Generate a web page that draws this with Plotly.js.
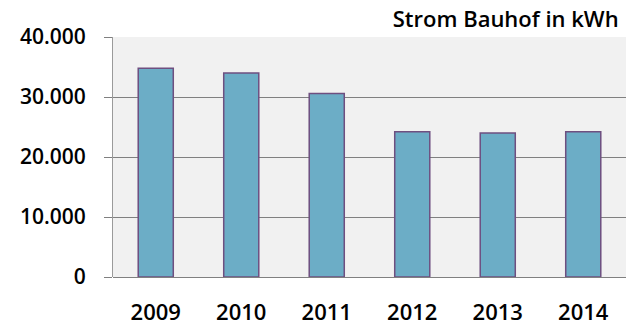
<!DOCTYPE html>
<html>
<head>
<meta charset="utf-8">
<script src="https://cdn.plot.ly/plotly-3.0.1.min.js"></script>
<style>
  html, body { margin: 0; padding: 0; background: #ffffff; }
  #chart { width: 630px; height: 327px; }
</style>
</head>
<body>
<div id="chart"></div>
<script>
// Stromverbrauch des Bauhofs pro Jahr (kWh)
const years = ['2009', '2010', '2011', '2012', '2013', '2014'];
const consumption = [34800, 34000, 30600, 24200, 24000, 24200];
const yTicks = [0, 10000, 20000, 30000, 40000];

const trace = {
  type: 'bar',
  x: years,
  y: consumption,
  marker: {
    color: '#6cadc6',
    line: { color: '#6e4f80', width: 1.5 }
  },
  hoverinfo: 'none'
};

const layout = {
  width: 630,
  height: 327,
  margin: { l: 113, r: 4, t: 37, b: 50 },
  paper_bgcolor: '#ffffff',
  plot_bgcolor: '#f1f1f1',
  separators: ',.',
  showlegend: false,
  bargap: 0.59,
  font: { family: '"Open Sans", sans-serif', color: '#000000', weight: 600 },
  title: {
    text: 'Strom Bauhof in kWh',
    font: { family: '"Open Sans", sans-serif', size: 22, color: '#000000', weight: 600 },
    xref: 'container',
    x: 0.982,
    xanchor: 'right',
    yref: 'container',
    y: 0.94,
    yanchor: 'middle'
  },
  xaxis: {
    type: 'category',
    showgrid: false,
    showline: false,
    ticks: '',
    tickfont: { size: 22, weight: 600 },
    ticklabelstandoff: 20
  },
  yaxis: {
    range: [0, 40000],
    tickvals: yTicks,
    tickformat: ',d',
    showgrid: true,
    gridcolor: '#808080',
    gridwidth: 1,
    zeroline: true,
    zerolinecolor: '#808080',
    zerolinewidth: 1,
    showline: true,
    linecolor: '#9a9a9a',
    linewidth: 1,
    ticks: 'outside',
    ticklen: 8,
    tickcolor: '#808080',
    tickfont: { size: 21, weight: 600 },
    ticklabelstandoff: 14
  }
};

Plotly.newPlot('chart', [trace], layout, { staticPlot: true, displayModeBar: false });
</script>
</body>
</html>
